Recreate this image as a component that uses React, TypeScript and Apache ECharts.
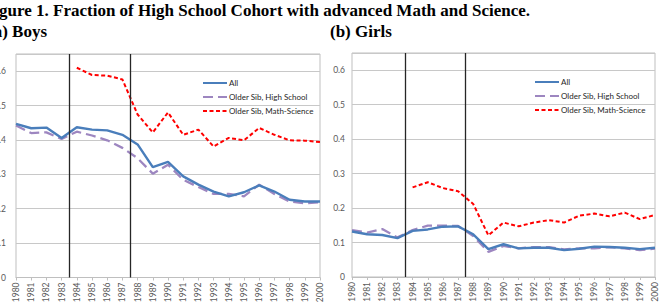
import React, { useEffect, useRef } from "react";
import * as echarts from "echarts";

const years = [1980, 1981, 1982, 1983, 1984, 1985, 1986, 1987, 1988, 1989, 1990, 1991, 1992, 1993, 1994, 1995, 1996, 1997, 1998, 1999, 2000];

const boysAll = [0.447, 0.434, 0.436, 0.406, 0.437, 0.43, 0.428, 0.415, 0.387, 0.321, 0.336, 0.294, 0.27, 0.25, 0.236, 0.248, 0.268, 0.25, 0.226, 0.221, 0.221];
const boysHS = [0.442, 0.42, 0.422, 0.403, 0.424, 0.413, 0.399, 0.377, 0.347, 0.302, 0.328, 0.284, 0.263, 0.243, 0.243, 0.236, 0.27, 0.243, 0.221, 0.216, 0.219];
const boysMS = [null, null, null, null, 0.61, 0.589, 0.587, 0.576, 0.474, 0.422, 0.48, 0.415, 0.43, 0.381, 0.406, 0.399, 0.435, 0.415, 0.399, 0.398, 0.394];

const girlsAll = [0.132, 0.124, 0.122, 0.113, 0.134, 0.138, 0.146, 0.147, 0.124, 0.081, 0.095, 0.083, 0.085, 0.085, 0.078, 0.082, 0.088, 0.087, 0.085, 0.081, 0.085];
const girlsHS = [0.136, 0.129, 0.139, 0.115, 0.136, 0.149, 0.149, 0.148, 0.119, 0.073, 0.09, 0.083, 0.087, 0.087, 0.08, 0.083, 0.083, 0.087, 0.083, 0.078, 0.082];
const girlsMS = [null, null, null, null, 0.26, 0.275, 0.258, 0.249, 0.212, 0.121, 0.158, 0.147, 0.158, 0.165, 0.158, 0.178, 0.184, 0.176, 0.187, 0.168, 0.18];

const seriesNames = ["All", "Older Sib, High School", "Older Sib, Math-Science"];
const policyLines = [1983.5, 1987.5];

const titleText = "Figure 1. Fraction of High School Cohort with advanced Math and Science.";
const panelTitles = ["(a) Boys", "(b) Girls"];

const pairs = (vals: (number | null)[]) => years.map((y, i) => [y, vals[i]]);

export default function App() {
  const ref = useRef<HTMLDivElement>(null);
  useEffect(() => {
    if (!ref.current) return;
    const chart = echarts.init(ref.current, null, { renderer: "svg" });
    const labelFont = "Lato, 'Liberation Sans', sans-serif";
    const grids = [
      { left: 16, right: 340, top: 54, bottom: 27.5 },
      { left: 352, right: 5, top: 53, bottom: 28 },
    ];
    const xAxes = grids.map((_, gi) => ({
      type: "value",
      gridIndex: gi,
      min: 1980,
      max: 2000,
      interval: 1,
      axisLine: { show: true, lineStyle: { color: "#bfbfbf", width: 1 } },
      axisTick: { show: true, length: 3, lineStyle: { color: "#bfbfbf" } },
      splitLine: { show: false },
      axisLabel: {
        rotate: 90,
        margin: 5,
        fontSize: 8.5,
        color: "#595959",
        fontFamily: labelFont,
        formatter: (v: number) => String(v),
      },
    }));
    const yAxes = grids.map((_, gi) => ({
      type: "value",
      gridIndex: gi,
      min: 0,
      max: 0.65,
      interval: 0.1,
      axisLine: { show: false },
      axisTick: { show: false },
      splitLine: { show: true, lineStyle: { color: "#c8c8c8", width: 1 } },
      axisLabel: {
        showMaxLabel: false,
        margin: gi === 0 ? 10 : 7,
        fontSize: 8.5,
        color: "#595959",
        fontFamily: labelFont,
        formatter: (v: number) => (v === 0 ? "0" : v.toFixed(1)),
      },
    }));
    const mkSeries = (gi: number, all: any[], hs: any[], ms: any[]) => [
      {
        name: seriesNames[0],
        type: "line",
        xAxisIndex: gi,
        yAxisIndex: gi,
        data: pairs(all),
        symbol: "none",
        lineStyle: { color: "#4a7ebb", width: 2.4 },
        itemStyle: { color: "#4a7ebb" },
        z: 3,
        markLine: {
          silent: true,
          symbol: "none",
          label: { show: false },
          lineStyle: { color: "#262626", width: 1.3, type: "solid" },
          data: policyLines.map((x) => ({ xAxis: x })),
        },
      },
      {
        name: seriesNames[1],
        type: "line",
        xAxisIndex: gi,
        yAxisIndex: gi,
        data: pairs(hs),
        symbol: "none",
        lineStyle: { color: "#9d86c0", width: 2.25, type: [10, 5] },
        itemStyle: { color: "#9d86c0" },
        z: 2,
      },
      {
        name: seriesNames[2],
        type: "line",
        xAxisIndex: gi,
        yAxisIndex: gi,
        data: pairs(ms),
        symbol: "none",
        connectNulls: false,
        lineStyle: { color: "#ff0000", width: 2, type: [4, 2.5] },
        itemStyle: { color: "#ff0000" },
        z: 4,
      },
    ];
    const legendBase = {
      orient: "vertical",
      itemWidth: 24,
      itemHeight: 10,
      itemGap: 6,
      data: seriesNames,
      itemStyle: { opacity: 0 },
      textStyle: { fontSize: 8, color: "#262626", fontFamily: labelFont, padding: [0, 0, 0, -3] },
      selectedMode: false,
    };
    chart.setOption({
      animation: false,
      backgroundColor: "#ffffff",
      grid: grids.map((g) => ({
        ...g,
        outerBoundsMode: "none",
        containLabel: false,
        show: true,
        borderColor: "#bfbfbf",
        borderWidth: 1,
        backgroundColor: "transparent",
      })),
      xAxis: xAxes,
      yAxis: yAxes,
      legend: [
        { ...legendBase, left: 197, top: 74 },
        { ...legendBase, left: 529, top: 73 },
      ],
      series: [...mkSeries(0, boysAll, boysHS, boysMS), ...mkSeries(1, girlsAll, girlsHS, girlsMS)],
      graphic: [
        {
          type: "text",
          x: 530,
          y: 10,
          style: {
            text: titleText,
            textAlign: "right",
            textVerticalAlign: "middle",
            font: "bold 17px 'Liberation Serif', 'Times New Roman', serif",
            fill: "#000000",
          },
        },
        {
          type: "text",
          x: 47,
          y: 31,
          style: {
            text: panelTitles[0],
            textAlign: "right",
            textVerticalAlign: "middle",
            font: "bold 17px 'Liberation Serif', 'Times New Roman', serif",
            fill: "#000000",
          },
        },
        {
          type: "text",
          x: 330,
          y: 31,
          style: {
            text: panelTitles[1],
            textAlign: "left",
            textVerticalAlign: "middle",
            font: "bold 17px 'Liberation Serif', 'Times New Roman', serif",
            fill: "#000000",
          },
        },
      ],
    });
    return () => chart.dispose();
  }, []);
  return <div ref={ref} style={{ position: "absolute", left: 0, top: 0, width: 660, height: 305 }} />;
}
